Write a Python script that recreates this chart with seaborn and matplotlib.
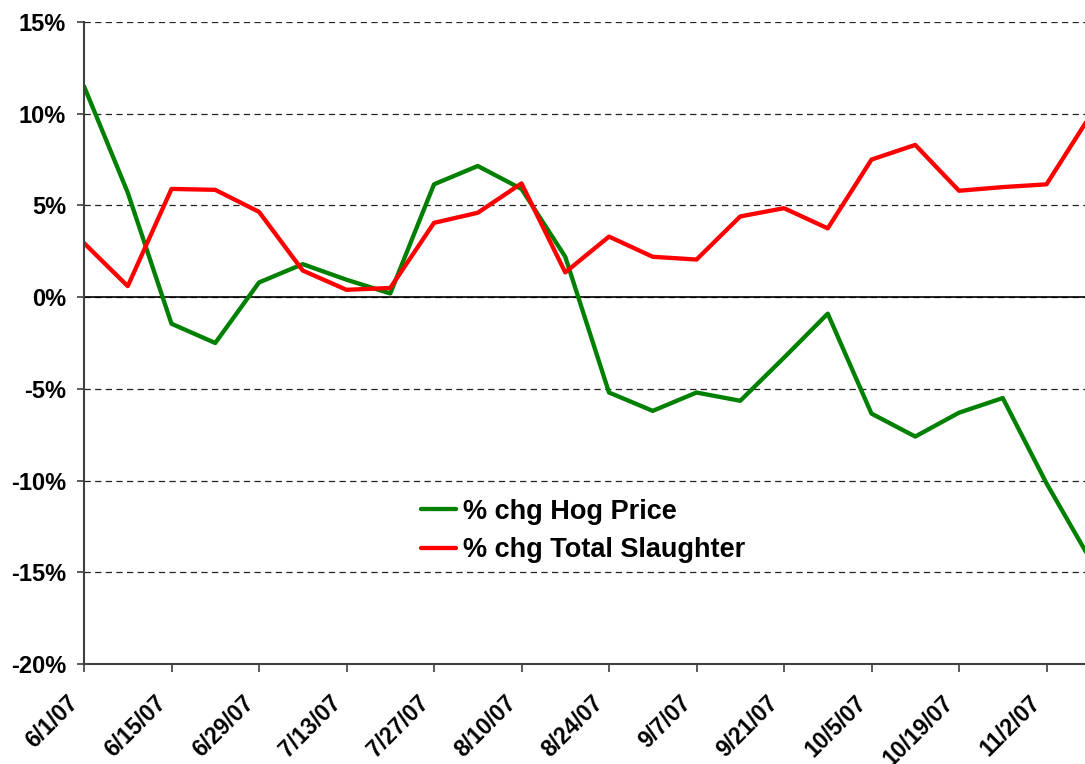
import matplotlib
matplotlib.use("Agg")
import matplotlib.pyplot as plt
import matplotlib.dates as mdates
import matplotlib.transforms as mtransforms
import seaborn as sns
import pandas as pd
import numpy as np

# ---- data ----
dates = pd.date_range("2007-06-01", periods=24, freq="7D")
hog_price = [11.5, 5.7, -1.45, -2.5, 0.8, 1.8, 0.95, 0.2, 6.15, 7.15, 5.9, 2.2,
             -5.2, -6.2, -5.2, -5.65, -3.3, -0.9, -6.35, -7.6, -6.3, -5.5, -10.15, -14.3]
slaughter = [2.95, 0.6, 5.9, 5.85, 4.65, 1.45, 0.4, 0.5, 4.05, 4.6, 6.2, 1.35,
             3.3, 2.2, 2.05, 4.4, 4.85, 3.75, 7.5, 8.3, 5.8, 6.0, 6.15, 9.9]
series_names = ["% chg Hog Price", "% chg Total Slaughter"]
series_colors = ["#008000", "#FF0000"]
tick_dates = pd.date_range("2007-06-01", "2007-11-02", freq="14D")
tick_labels = ["6/1/07", "6/15/07", "6/29/07", "7/13/07", "7/27/07", "8/10/07",
               "8/24/07", "9/7/07", "9/21/07", "10/5/07", "10/19/07", "11/2/07"]
y_ticks = [-20, -15, -10, -5, 0, 5, 10, 15]
y_labels = ["-20%", "-15%", "-10%", "-5%", "0%", "5%", "10%", "15%"]

df = pd.concat([
    pd.DataFrame({"date": dates, "value": hog_price, "series": series_names[0]}),
    pd.DataFrame({"date": dates, "value": slaughter, "series": series_names[1]}),
], ignore_index=True)

sns.set_style("white")
plt.rcParams["font.family"] = ["Liberation Sans", "DejaVu Sans"]
plt.rcParams["font.weight"] = "bold"
plt.rcParams["text.color"] = "black"
plt.rcParams["xtick.color"] = "black"
plt.rcParams["ytick.color"] = "black"

fig = plt.figure(figsize=(10.85, 7.64), dpi=100)
W, H = 1085, 764
left, right, top, bottom = 84, 1085, 22, 664
ax = fig.add_axes([left / W, 1 - bottom / H, (right - left) / W, (bottom - top) / H])

sns.lineplot(data=df, x="date", y="value", hue="series", palette=series_colors,
             hue_order=series_names, linewidth=3.1, ax=ax, legend=True)

x0 = pd.Timestamp("2007-06-01")
ax.set_xlim(mdates.date2num(x0), mdates.date2num(x0) + 7 * (right - left) / 43.75)
ax.set_ylim(-20, 15)

ax.set_yticks(y_ticks)
ax.set_yticklabels(y_labels, fontsize=17, fontweight="bold", color="black")
ax.set_xticks(mdates.date2num(tick_dates))
ax.set_xticklabels(tick_labels, fontsize=16.5, fontweight="bold", rotation=45,
                   ha="right", va="center", rotation_mode="anchor", color="black")
ax.set_xlabel("")
ax.set_ylabel("")

ax.yaxis.grid(True, linestyle=(0, (5, 3.5)), color="#222222", linewidth=0.9)
ax.xaxis.grid(False)
ax.axhline(0, color="black", linewidth=1.2, zorder=1.5)

for s in ["top", "right"]:
    ax.spines[s].set_visible(False)
for s in ["left", "bottom"]:
    ax.spines[s].set_color("#404040")
    ax.spines[s].set_linewidth(1.5)

ax.tick_params(axis="y", direction="out", length=5, width=1.2, color="#404040", pad=8, left=True)
ax.tick_params(axis="x", direction="out", length=6, width=1.2, color="#404040", pad=20, bottom=True)

shift = mtransforms.ScaledTranslation(-9 / 100, 1 / 100, fig.dpi_scale_trans)
for lbl in ax.get_xticklabels():
    lbl.set_transform(lbl.get_transform() + shift)

handles, labels = ax.get_legend_handles_labels()
ax.legend(handles, labels, loc="center", bbox_to_anchor=(583 / W, 1 - 531 / H),
          bbox_transform=fig.transFigure, frameon=False,
          prop={"size": 19.5, "weight": "bold"}, handlelength=1.3,
          handletextpad=0.25, labelspacing=0.45)

fig.savefig("out.png", dpi=100)
